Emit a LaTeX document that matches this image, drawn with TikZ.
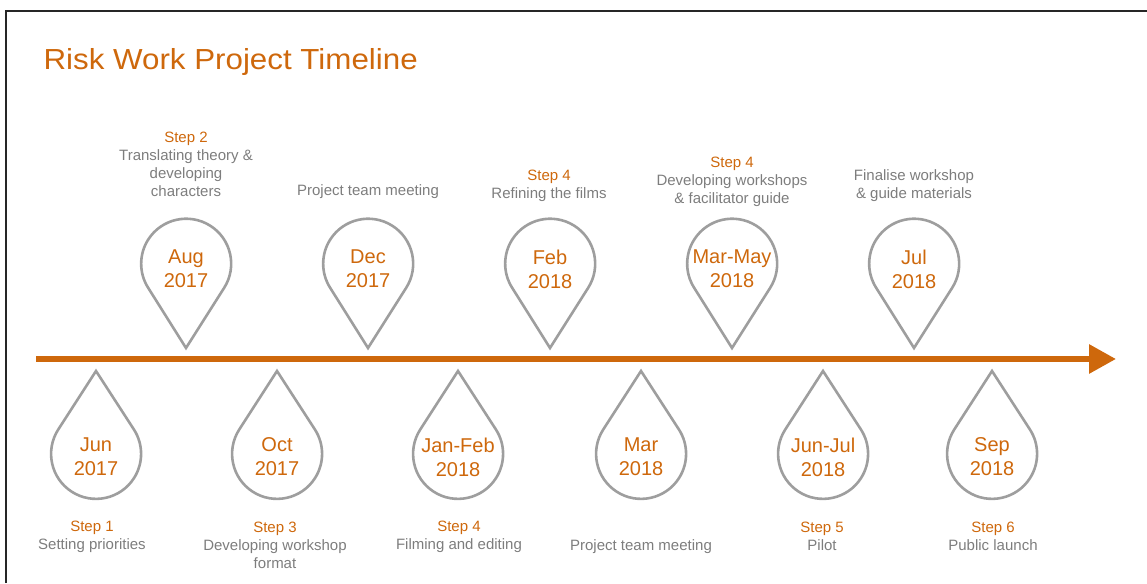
\documentclass[tikz,border=0pt]{standalone}
\usepackage{fontspec}
\setmainfont{Liberation Sans}
\newfontfamily\titlefont[FakeStretch=1.08]{Liberation Sans}
\usetikzlibrary{arrows.meta}
\definecolor{riskorange}{RGB}{206,104,12}
\definecolor{labelgrey}{RGB}{125,125,125}
\definecolor{pingrey}{RGB}{158,158,158}

\begin{document}
\begin{tikzpicture}[x=1pt, y=1pt,
		pin/.style={circle, minimum size=90pt, inner sep=0pt, outer sep=0pt},
		drop/.style={draw=pingrey, line width=2.6pt, line join=miter},
		date/.style={text=riskorange, align=center, font=\fontsize{20}{24}\selectfont},
		note/.style={text=labelgrey, align=center, font=\fontsize{15}{18}\selectfont}]
	\useasboundingbox (0,0) rectangle (1147,583);
	\draw[line width=1.5pt, black!85] (6,0) -- (6,572) -- (1147,572);
	\node[anchor=base west, text=riskorange, font=\titlefont\fontsize{29}{34}\selectfont] (title) at (40,513) {Risk Work Project Timeline};
	% timeline
	\coordinate (start) at (36,224);
	\coordinate (end) at (1116,224);
	\draw[riskorange, line width=6pt, -{Triangle[length=27pt, width=28pt]}] (start) -- (end);
	% pins above the line
	\begin{scope}[every node/.style=pin]
		\node (aug17) at (186,319) {};
		\node (dec17) at (368,319) {};
		\node (feb18) at (550,319) {};
		\node (may18) at (732,319) {};
		\node (jul18) at (914,319) {};
	\end{scope}
	\draw[drop] ([yshift=-84pt]aug17.center) -- (aug17.-32.4) arc[start angle=-32.4, end angle=212.4, radius=45pt] -- cycle;
	\draw[drop] ([yshift=-84pt]dec17.center) -- (dec17.-32.4) arc[start angle=-32.4, end angle=212.4, radius=45pt] -- cycle;
	\draw[drop] ([yshift=-84pt]feb18.center) -- (feb18.-32.4) arc[start angle=-32.4, end angle=212.4, radius=45pt] -- cycle;
	\draw[drop] ([yshift=-84pt]may18.center) -- (may18.-32.4) arc[start angle=-32.4, end angle=212.4, radius=45pt] -- cycle;
	\draw[drop] ([yshift=-84pt]jul18.center) -- (jul18.-32.4) arc[start angle=-32.4, end angle=212.4, radius=45pt] -- cycle;
	% pins below the line
	\begin{scope}[every node/.style=pin]
		\node (jun17) at (96,129) {};
		\node (oct17) at (277,129) {};
		\node (jan18) at (458,129) {};
		\node (mar18) at (641,129) {};
		\node (jun18) at (823,129) {};
		\node (sep18) at (992,129) {};
	\end{scope}
	\draw[drop] ([yshift=83pt]jun17.center) -- (jun17.147.2) arc[start angle=147.2, end angle=392.8, radius=45pt] -- cycle;
	\draw[drop] ([yshift=83pt]oct17.center) -- (oct17.147.2) arc[start angle=147.2, end angle=392.8, radius=45pt] -- cycle;
	\draw[drop] ([yshift=83pt]jan18.center) -- (jan18.147.2) arc[start angle=147.2, end angle=392.8, radius=45pt] -- cycle;
	\draw[drop] ([yshift=83pt]mar18.center) -- (mar18.147.2) arc[start angle=147.2, end angle=392.8, radius=45pt] -- cycle;
	\draw[drop] ([yshift=83pt]jun18.center) -- (jun18.147.2) arc[start angle=147.2, end angle=392.8, radius=45pt] -- cycle;
	\draw[drop] ([yshift=83pt]sep18.center) -- (sep18.147.2) arc[start angle=147.2, end angle=392.8, radius=45pt] -- cycle;
	% dates
	\begin{scope}[every node/.style=date]
		\node (aug17d) at ([yshift=-5pt]aug17.center) {Aug\\2017};
		\node (dec17d) at ([yshift=-5pt]dec17.center) {Dec\\2017};
		\node (feb18d) at ([yshift=-5pt]feb18.center) {Feb\\2018};
		\node (may18d) at ([yshift=-5pt]may18.center) {Mar-May\\2018};
		\node (jul18d) at ([yshift=-5pt]jul18.center) {Jul\\2018};
		\node (jun17d) at ([yshift=-3pt]jun17.center) {Jun\\2017};
		\node (oct17d) at ([yshift=-3pt]oct17.center) {Oct\\2017};
		\node (jan18d) at ([yshift=-3pt]jan18.center) {Jan-Feb\\2018};
		\node (mar18d) at ([yshift=-3pt]mar18.center) {Mar\\2018};
		\node (jun18d) at ([yshift=-3pt]jun18.center) {Jun-Jul\\2018};
		\node (sep18d) at ([yshift=-3pt]sep18.center) {Sep\\2018};
	\end{scope}
	% steps and notes
	\begin{scope}[every node/.style=note]
		\node (aug17n) at (186,418.5) {\textcolor{riskorange}{Step 2}\\Translating theory \&\\developing\\characters};
		\node (dec17n) at (368,391) {Project team meeting};
		\node (feb18n) at (549,397) {\textcolor{riskorange}{Step 4}\\Refining the films};
		\node (may18n) at (732,401.5) {\textcolor{riskorange}{Step 4}\\Developing workshops\\\& facilitator guide};
		\node (jul18n) at (914,397) {Finalise workshop\\\& guide materials};
		\node (jun17n) at (92,46.5) {\textcolor{riskorange}{Step 1}\\Setting priorities};
		\node (oct17n) at (275,37.5) {\textcolor{riskorange}{Step 3}\\Developing workshop\\format};
		\node (jan18n) at (459,46.5) {\textcolor{riskorange}{Step 4}\\Filming and editing};
		\node (mar18n) at (641,36) {Project team meeting};
		\node (jun18n) at (822,46.5) {\textcolor{riskorange}{Step 5}\\Pilot};
		\node (sep18n) at (993,46.5) {\textcolor{riskorange}{Step 6}\\Public launch};
	\end{scope}
\end{tikzpicture}
\end{document}
